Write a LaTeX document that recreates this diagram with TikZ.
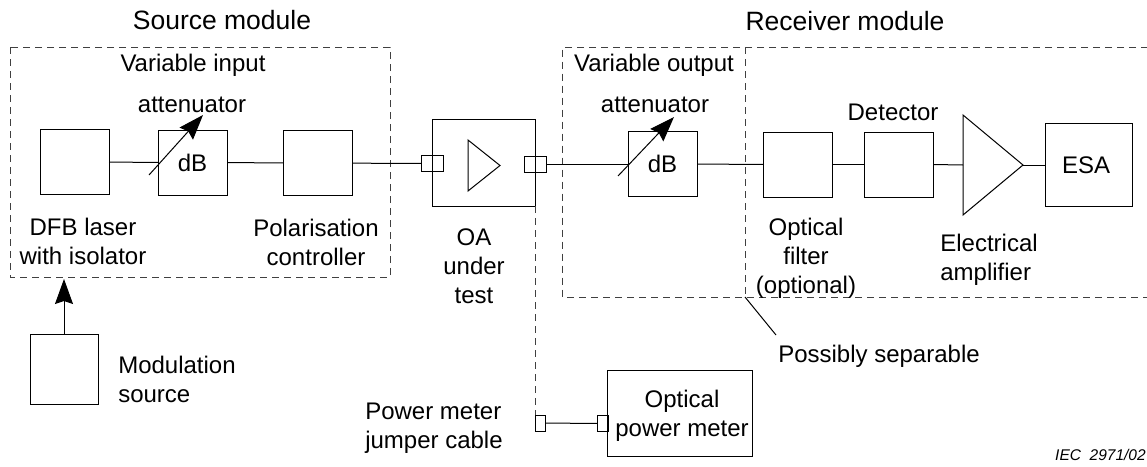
\documentclass[tikz,border=0pt]{standalone}
\usepackage{fontspec}
\setmainfont{Liberation Sans}
\usetikzlibrary{shapes.geometric, arrows.meta, positioning}
\tikzset{
  unitbox/.style={draw, line width=1pt, minimum width=69pt, minimum height=65pt, inner sep=0pt, outer sep=0pt, font=\fontsize{24}{29}\selectfont},
  jackbox/.style={draw, line width=1pt, minimum width=11pt, minimum height=16pt, inner sep=0pt, outer sep=0pt},
  ampshape/.style={draw, line width=1pt, isosceles triangle, isosceles triangle stretches, inner sep=0pt, outer sep=0pt, anchor=apex},
  lbl/.style={align=center, inner sep=0pt, font=\fontsize{24}{29}\selectfont},
  titlelbl/.style={inner sep=0pt, font=\fontsize{26.5}{30}\selectfont},
  modbox/.style={draw=black!75, dash pattern=on 7pt off 5pt, line width=1pt},
  sigline/.style={line width=1pt},
  atarrow/.style={line width=1pt, -{Stealth[length=25pt,width=18pt,inset=3pt]}},
}
\begin{document}
\begin{tikzpicture}[x=1pt, y=-1pt]
  \useasboundingbox (0,0) rectangle (1147,466);
  % dashed modules
  \coordinate (recvtr) at (1160,47);
  \coordinate (recvbr) at (1160,297);
  \coordinate (sepA) at (745,47);
  \coordinate (sepB) at (745,297);
  \draw[modbox] (10,47) rectangle (390,277);
  \draw[modbox] (recvtr) -- (562.5,47) -- (562.5,297) -- (recvbr);
  \draw[modbox] (sepA) -- (sepB);
  % source side
  \node[unitbox] (laser) at (74.5,162) {};
  \node[unitbox] (attin) at (192.5,162.5) {dB};
  \node[unitbox] (polar) at (317.5,163) {};
  \node[unitbox, minimum width=103pt, minimum height=87pt] (oabox) at (483.5,162.5) {};
  \node[jackbox] (jackA) at (426.5,163.5) {};
  \node[jackbox] (jackB) at (437.5,163.5) {};
  \node[jackbox] (jackC) at (529.5,164) {};
  \node[jackbox] (jackD) at (541,164) {};
  \node[ampshape, minimum width=51pt, minimum height=32pt] (oatri) at (500,165.5) {};
  % receiver side
  \node[unitbox] (attout) at (662.5,164) {dB};
  \node[unitbox] (ofilter) at (797.5,164.5) {};
  \node[unitbox] (detect) at (898.5,164.5) {};
  \node[ampshape, minimum width=100pt, minimum height=60pt] (eamp) at (1023,165) {};
  \node[unitbox, minimum width=87pt, minimum height=83pt] (esa) at (1088.5,165) {};
  % lower part
  \node[unitbox, minimum width=68pt, minimum height=70pt] (modsrc) at (64,369) {};
  \node[jackbox, minimum width=10pt] (jackE) at (540,423) {};
  \node[jackbox, minimum width=11pt] (jackF) at (602.5,423.5) {};
  \node[unitbox, minimum width=145pt, minimum height=86pt] (opm) at (679.5,413) {};
  \coordinate (modtop) at (64,279);
  \coordinate (attinA) at (149,175);
  \coordinate (attinB) at (203,115);
  \coordinate (attoutA) at (618,176);
  \coordinate (attoutB) at (674,117);
  \coordinate (leadend) at (776,335);
  % connectors
  \draw[sigline] (laser) -- (attin);
  \draw[sigline] (attin) -- (polar);
  \draw[sigline] (polar) -- (jackA);
  \draw[sigline] (jackD) -- (attout);
  \draw[sigline] (attout) -- (ofilter);
  \draw[sigline] (ofilter) -- (detect);
  \draw[sigline] (detect.east) -- (eamp.lower side);
  \draw[sigline] (eamp.apex) -- (esa.west);
  \draw[sigline] (jackE) -- (jackF);
  \draw[sigline] (sepB) -- (leadend);
  \draw[modbox] (jackE.north west |- oabox.south) -- (jackE.north west);
  \draw[atarrow] (attinA) -- (attinB);
  \draw[atarrow] (attoutA) -- (attoutB);
  \draw[atarrow] (modsrc) -- (modtop);
  % labels
  \node[titlelbl] (srctitle) at (222,20) {Source module};
  \node[titlelbl] (rcvtitle) at (845,21) {Receiver module};
  \node[lbl] (varin) at (193,65) {Variable input};
  \node[lbl] (attinlbl) at (192,105) {attenuator};
  \node[lbl] (laserlbl) at (83,241) {DFB laser\\with isolator};
  \node[lbl] (polarlbl) at (316,242) {Polarisation\\controller};
  \node[lbl] (oalbl) at (474,266) {OA\\under\\test};
  \node[lbl] (varout) at (654,65) {Variable output};
  \node[lbl] (attoutlbl) at (655,105) {attenuator};
  \node[lbl] (detectlbl) at (893,112) {Detector};
  \node[lbl] (esalbl) at (1086,165) {ESA};
  \node[lbl] (filterlbl) at (806,258) {Optical\\filter\\(optional)};
  \node[lbl, align=left] (amplbl) at (989,260) {Electrical\\amplifier};
  \node[lbl] (seplbl) at (879,356) {Possibly separable};
  \node[lbl] (opmlbl) at (682,416) {Optical\\power meter};
  \node[lbl, align=left] (jumplbl) at (434,428) {Power meter\\jumper cable};
  \node[lbl, align=left] (modlbl) at (177,379) {Modulation\\source};
  \node[inner sep=0pt, anchor=west, font=\fontsize{15.5}{18}\selectfont\itshape] (ieclbl) at (1055,455) {IEC\ \ 2971/02};
\end{tikzpicture}
\end{document}
